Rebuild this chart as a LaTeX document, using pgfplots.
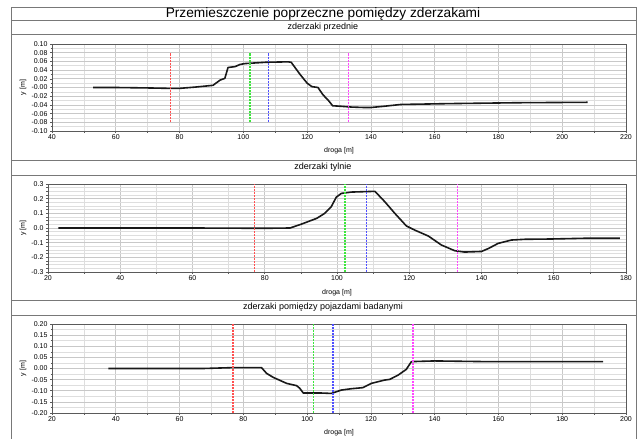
\documentclass[border=0pt]{standalone}
\usepackage{fontspec}
\setmainfont{Liberation Sans}
\usepackage{pgfplots}
\pgfplotsset{compat=1.18}

\definecolor{framec}{RGB}{120,120,120}
\definecolor{axisc}{RGB}{90,90,90}
\definecolor{gridc}{RGB}{200,200,200}
\definecolor{gridm}{RGB}{222,222,222}
\definecolor{vred}{RGB}{255,80,80}
\definecolor{vgreen}{RGB}{60,230,60}
\definecolor{vblue}{RGB}{80,80,255}
\definecolor{vmag}{RGB}{255,70,255}

\pgfplotsset{
  panel/.style={
    scale only axis, anchor=south west,
    axis line style={draw=axisc, line width=0.8pt},
    grid=both,
    major grid style={draw=gridc, line width=0.7pt},
    minor grid style={draw=gridm, line width=0.6pt},
    tick align=outside,
    major tick length=2pt, minor tick length=1.5pt,
    tick style={draw=axisc, line width=0.6pt},
    ticklabel style={font=\fontsize{7}{7}\selectfont},
    /pgf/number format/assume math mode=true,
    xticklabel style={yshift=1.5pt},
    yticklabel style={xshift=1pt},
    minor x tick num=1,
    xtick pos=bottom, ytick pos=left,
  },
  curve/.style={draw=black!90, line width=1.6pt, line join=round},
  vline/.style={color=#1, line width=1.3pt, dash pattern=on 2.2pt off 0.8pt},
}

\begin{document}
\begin{tikzpicture}
\useasboundingbox (0pt,0pt) rectangle (638pt,-439pt);

% frames
\draw[framec, line width=0.9pt] (11pt,-7pt) rectangle (636pt,-445pt);
\draw[framec, line width=0.9pt] (11pt,-20pt) -- (636pt,-20pt);
\draw[framec, line width=0.9pt] (11pt,-34pt) -- (636pt,-34pt);
\draw[framec, line width=0.9pt] (11pt,-160pt) -- (636pt,-160pt);
\draw[framec, line width=0.9pt] (11pt,-175pt) -- (636pt,-175pt);
\draw[framec, line width=0.9pt] (11pt,-300pt) -- (636pt,-300pt);
\draw[framec, line width=0.9pt] (11pt,-315pt) -- (636pt,-315pt);

\node[font=\fontsize{13.7}{14}\selectfont] at (323pt,-13.5pt) {Przemieszczenie poprzeczne pomiędzy zderzakami};
\node[font=\fontsize{9}{9}\selectfont] at (323pt,-27pt) {zderzaki przednie};
\node[font=\fontsize{9}{9}\selectfont] at (323pt,-167.5pt) {zderzaki tylnie};
\node[font=\fontsize{9}{9}\selectfont] at (323pt,-307.5pt) {zderzaki pomiędzy pojazdami badanymi};

% panel 1
\begin{axis}[panel, at={(52pt,-131pt)}, width=574pt, height=87pt,
  xmin=40, xmax=220, ymin=-0.1, ymax=0.1,
  xtick={40,60,...,220},
  ytick={-0.1,-0.08,...,0.11},
  yticklabels={-0.10,-0.08,-0.06,-0.04,-0.02,-0.00,0.02,0.04,0.06,0.08,0.10},
  minor y tick num=1]
\addplot[curve] coordinates {
(52.9,0.000)(60,0.000)(70,-0.001)(77,-0.002)(80,-0.002)(85,0.001)(90.5,0.005)
(92.7,0.017)(94.2,0.021)(95.2,0.046)(97.4,0.048)(99,0.053)(100.5,0.055)(107,0.058)
(114,0.059)(115,0.058)(117.8,0.030)(120,0.010)(121.5,0.002)(123.4,0.000)(125,-0.017)
(126.6,-0.029)(128,-0.042)(130.3,-0.043)(134,-0.045)(138,-0.046)(140,-0.046)
(144.3,-0.043)(149.4,-0.039)(165,-0.037)(186,-0.035)(208,-0.034)};
\addplot[vline=vred] coordinates {(77.2,-0.08) (77.2,0.08)};
\addplot[vline=vgreen] coordinates {(102.1,-0.08) (102.1,0.08)};
\addplot[vline=vblue] coordinates {(108,-0.08) (108,0.08)};
\addplot[vline=vmag] coordinates {(133,-0.08) (133,0.08)};
\end{axis}
\node[font=\fontsize{7}{7}\selectfont, rotate=90] at (23pt,-87.5pt) {y [m]};
\node[font=\fontsize{7}{7}\selectfont] at (339pt,-151pt) {droga [m]};

% panel 2
\begin{axis}[panel, at={(48pt,-272pt)}, width=578pt, height=88pt,
  xmin=20, xmax=180, ymin=-0.3, ymax=0.3,
  xtick={20,40,...,180},
  ytick={-0.3,-0.2,...,0.31},
  yticklabels={-0.3,-0.2,-0.1,0.0,0.1,0.2,0.3},
  minor y tick num=3]
\addplot[curve] coordinates {
(22.9,0)(40,0)(60,0)(80,-0.002)(87,0)(90,0.025)(94.4,0.066)(96.6,0.10)(98.4,0.145)
(99.8,0.21)(101.2,0.236)(104,0.245)(110.5,0.25)(113.2,0.18)(116,0.10)(119.2,0.014)
(121.5,-0.014)(125.3,-0.055)(128.9,-0.116)(132.6,-0.155)(135.3,-0.164)(140,-0.16)
(141.9,-0.14)(144.6,-0.105)(148.3,-0.082)(152,-0.077)(159.3,-0.075)(168.6,-0.07)
(178.3,-0.07)};
\addplot[vline=vred] coordinates {(77.1,-0.3) (77.1,0.3)};
\addplot[vline=vgreen] coordinates {(102.2,-0.3) (102.2,0.3)};
\addplot[vline=vblue] coordinates {(108.2,-0.3) (108.2,0.3)};
\addplot[vline=vmag] coordinates {(133.3,-0.3) (133.3,0.3)};
\end{axis}
\node[font=\fontsize{7}{7}\selectfont, rotate=90] at (23pt,-228pt) {y [m]};
\node[font=\fontsize{7}{7}\selectfont] at (337pt,-292.5pt) {droga [m]};

% panel 3
\begin{axis}[panel, at={(52pt,-413pt)}, width=574pt, height=89pt,
  xmin=20, xmax=200, ymin=-0.2, ymax=0.2,
  xtick={20,40,...,200},
  ytick={-0.2,-0.15,...,0.21},
  yticklabels={-0.20,-0.15,-0.10,-0.05,0.00,0.05,0.10,0.15,0.20},
  minor y tick num=1]
\addplot[curve] coordinates {
(37.7,0)(67.4,0)(76.8,0.004)(85.7,0.004)(87.3,-0.022)(89.4,-0.04)(93.6,-0.067)
(96.7,-0.077)(97.7,-0.089)(98.8,-0.11)(104,-0.11)(107.6,-0.112)(110.7,-0.097)
(113.8,-0.091)(117.5,-0.086)(120.1,-0.067)(124.3,-0.052)(125.9,-0.049)(128.5,-0.03)
(131.1,-0.004)(132.7,0.031)(140,0.034)(155.7,0.031)(192.8,0.031)};
\addplot[vline=vred] coordinates {(76.8,-0.2) (76.8,0.2)};
\addplot[vline=vgreen] coordinates {(101.9,-0.2) (101.9,0.2)};
\addplot[vline=vblue] coordinates {(108.1,-0.2) (108.1,0.2)};
\addplot[vline=vmag] coordinates {(133.2,-0.2) (133.2,0.2)};
\end{axis}
\node[font=\fontsize{7}{7}\selectfont, rotate=90] at (23pt,-368.5pt) {y [m]};
\node[font=\fontsize{7}{7}\selectfont] at (339pt,-433pt) {droga [m]};
\end{tikzpicture}
\end{document}
